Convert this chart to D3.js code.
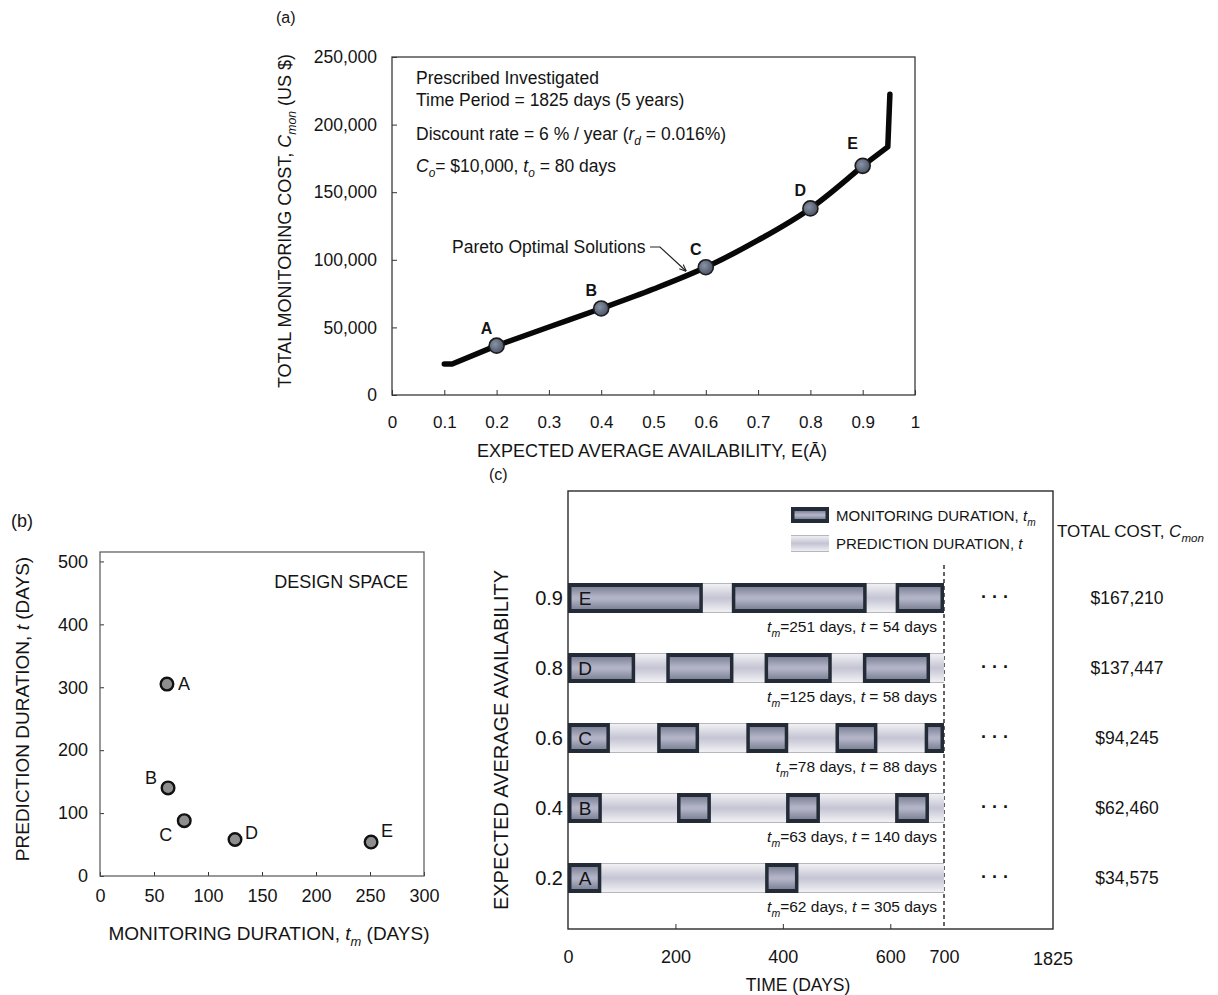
<!DOCTYPE html>
<html><head><meta charset="utf-8">
<script src="https://cdn.jsdelivr.net/npm/d3@7"></script>
<style>body{margin:0;background:#fff;} svg text{fill:#141414;}</style>
</head><body>
<svg id="chart" width="1218" height="995"></svg>
<script>
// ---------- Panel (a) data ----------
const curveAvail = [0.10, 0.115, 0.2, 0.3, 0.4, 0.5, 0.6, 0.7, 0.8, 0.9, 0.948, 0.952];
const curveCost  = [22900, 22900, 36500, 50300, 64000, 78400, 94500, 114500, 138000, 169500, 183500, 222500];
const paretoLabels = ["A", "B", "C", "D", "E"];
const paretoAvail  = [0.2, 0.4, 0.6, 0.8, 0.9];
const paretoCost   = [36500, 64000, 94500, 138000, 169500];
const aXTicks = [0, 0.1, 0.2, 0.3, 0.4, 0.5, 0.6, 0.7, 0.8, 0.9, 1];
const aYTicks = [0, 50000, 100000, 150000, 200000, 250000];

// ---------- Panel (b) data ----------
const designLabels = ["A", "B", "C", "D", "E"];
const designTm = [62, 63, 78, 125, 251];
const designT  = [305, 140, 88, 58, 54];
const bXTicks = [0, 50, 100, 150, 200, 250, 300];
const bYTicks = [0, 100, 200, 300, 400, 500];

// ---------- Panel (c) data ----------
const rowLetters = ["E", "D", "C", "B", "A"];
const rowAvail   = ["0.9", "0.8", "0.6", "0.4", "0.2"];
const rowTm      = [251, 125, 78, 63, 62];
const rowT       = [54, 58, 88, 140, 305];
const rowCost    = ["$167,210", "$137,447", "$94,245", "$62,460", "$34,575"];
const cXTicks    = [0, 200, 400, 600, 700];
const cShownEnd  = 700;
const cPeriodEnd = "1825";

const REG = "'Liberation Sans', Arial, Helvetica, sans-serif";

const svg = d3.select("#chart");
const defs = svg.append("defs");

function vgrad(id, stops) {
  const g = defs.append("linearGradient").attr("id", id).attr("x1", 0).attr("y1", 0).attr("x2", 0).attr("y2", 1);
  stops.forEach(s => g.append("stop").attr("offset", s[0]).attr("stop-color", s[1]));
}
vgrad("monGrad", [[0, "#7f8498"], [0.45, "#b2b3c6"], [0.55, "#b2b3c6"], [1, "#7f8498"]]);
vgrad("preGrad", [[0, "#f4f4f6"], [0.5, "#c4c4d4"], [1, "#f4f4f6"]]);
const rg = defs.append("radialGradient").attr("id", "dotGrad").attr("cx", "40%").attr("cy", "40%").attr("r", "60%");
rg.append("stop").attr("offset", 0).attr("stop-color", "#8893a5");
rg.append("stop").attr("offset", 1).attr("stop-color", "#4c5668");
const mk = defs.append("marker").attr("id", "arrow").attr("viewBox", "0 0 10 10").attr("refX", 9).attr("refY", 5)
  .attr("markerWidth", 6).attr("markerHeight", 6).attr("orient", "auto");
mk.append("path").attr("d", "M0,1 L10,5 L0,9").attr("fill", "none").attr("stroke", "#222").attr("stroke-width", 1.5);

// rich text helper: parts = [text, flags] flags: 1 italic, 2 subscript
function rich(sel, parts, size) {
  let shifted = false;
  parts.forEach(p => {
    const ts = sel.append("tspan").text(p[0]);
    const f = p[1] || 0;
    if (f & 1) ts.attr("font-style", "italic");
    if (f & 2) {
      ts.attr("font-size", size * 0.68);
      if (!shifted) { ts.attr("dy", size * 0.3); shifted = true; }
    } else if (shifted) {
      ts.attr("dy", -size * 0.3); shifted = false;
    }
  });
  return sel;
}

function styleAxis(g, size) {
  g.select(".domain").remove();
  g.selectAll(".tick line").attr("stroke", "#333").attr("stroke-width", 1);
  g.selectAll(".tick text").attr("font-size", size).attr("font-family", REG).attr("fill", "#141414");
}

// ================= Panel (a) =================
const ax = d3.scaleLinear().domain([0, 1]).range([392, 915]);
const ay = d3.scaleLinear().domain([0, 250000]).range([395, 57]);

svg.append("text").attr("x", 276).attr("y", 23).attr("font-size", 16).attr("font-family", REG).text("(a)");

svg.append("g").attr("transform", "translate(0,395)")
  .call(d3.axisBottom(ax).tickValues(aXTicks).tickSizeInner(-5).tickSizeOuter(0).tickPadding(21)
    .tickFormat(d => d === 0 || d === 1 ? d3.format("d")(d) : d3.format(".1f")(d)))
  .call(g => styleAxis(g, 17));
svg.append("g").attr("transform", "translate(392,0)")
  .call(d3.axisLeft(ay).tickValues(aYTicks).tickSizeInner(-5).tickSizeOuter(0).tickPadding(15).tickFormat(d3.format(",")))
  .call(g => styleAxis(g, 17.5));
svg.append("rect").attr("x", 392).attr("y", 57).attr("width", 523).attr("height", 338)
  .attr("fill", "none").attr("stroke", "#3a3a3a").attr("stroke-width", 1.3);

const curvePts = curveAvail.map((a, i) => [a, curveCost[i]]);
const smoothPart = curvePts.filter(d => d[0] >= 0.2 && d[0] <= 0.9);
const headPart = curvePts.filter(d => d[0] <= 0.2);
const tailPart = curvePts.filter(d => d[0] >= 0.9);
const curveStyle = p => p.attr("fill", "none").attr("stroke", "#080808").attr("stroke-width", 5.5)
  .attr("stroke-linecap", "round").attr("stroke-linejoin", "round");
svg.append("path").datum(smoothPart)
  .attr("d", d3.line().x(d => ax(d[0])).y(d => ay(d[1])).curve(d3.curveMonotoneX)).call(curveStyle);
svg.append("path").datum(headPart)
  .attr("d", d3.line().x(d => ax(d[0])).y(d => ay(d[1]))).call(curveStyle);
svg.append("path").datum(tailPart)
  .attr("d", d3.line().x(d => ax(d[0])).y(d => ay(d[1]))).call(curveStyle);

paretoAvail.forEach((a, i) => {
  svg.append("circle").attr("cx", ax(a)).attr("cy", ay(paretoCost[i])).attr("r", 7.5)
    .attr("fill", "url(#dotGrad)").attr("stroke", "#1c1c1c").attr("stroke-width", 1.6);
  svg.append("text").attr("x", ax(a) - 10).attr("y", ay(paretoCost[i]) - (i === 4 ? 17 : 12))
    .attr("text-anchor", "middle").attr("font-size", 16).attr("font-weight", "bold").attr("font-family", REG)
    .text(paretoLabels[i]);
});

const annA = svg.append("g").attr("font-family", REG).attr("font-size", 17.5);
annA.append("text").attr("x", 416).attr("y", 84).text("Prescribed Investigated");
annA.append("text").attr("x", 416).attr("y", 106).text("Time Period = 1825 days (5 years)");
rich(annA.append("text").attr("x", 416).attr("y", 140),
  [["Discount rate = 6 % / year ("], ["r", 1], ["d", 3], [" = 0.016%)"]], 17.5);
rich(annA.append("text").attr("x", 416).attr("y", 172),
  [["C", 1], ["o", 3], ["= $10,000, "], ["t", 1], ["o", 3], [" = 80 days"]], 17.5);

annA.append("text").attr("x", 452).attr("y", 253).text("Pareto Optimal Solutions");
svg.append("path").attr("d", "M650,247 L660,247 L686,271").attr("fill", "none")
  .attr("stroke", "#222").attr("stroke-width", 1.2).attr("marker-end", "url(#arrow)");

svg.append("text").attr("transform", "translate(291,221) rotate(-90)").attr("text-anchor", "middle")
  .attr("font-size", 18).attr("font-family", REG)
  .call(t => rich(t, [["TOTAL MONITORING COST, "], ["C", 1], ["mon", 3], [" (US $)"]], 18));
svg.append("text").attr("x", 652).attr("y", 457).attr("text-anchor", "middle")
  .attr("font-size", 18).attr("font-family", REG)
  .text("EXPECTED AVERAGE AVAILABILITY, E(\u0100)");

// ================= Panel (b) =================
const bx = d3.scaleLinear().domain([0, 300]).range([100, 424]);
const by = d3.scaleLinear().domain([0, 515]).range([876, 552]);

svg.append("text").attr("x", 11).attr("y", 527).attr("font-size", 18).attr("font-family", REG).text("(b)");
svg.append("g").attr("transform", "translate(0,876)")
  .call(d3.axisBottom(bx).tickValues(bXTicks).tickSizeInner(-4).tickSizeOuter(0).tickPadding(13))
  .call(g => styleAxis(g, 18));
svg.append("g").attr("transform", "translate(100,0)")
  .call(d3.axisLeft(by).tickValues(bYTicks).tickSizeInner(-4).tickSizeOuter(0).tickPadding(12))
  .call(g => styleAxis(g, 18));
svg.append("rect").attr("x", 100).attr("y", 552).attr("width", 324).attr("height", 324)
  .attr("fill", "none").attr("stroke", "#555").attr("stroke-width", 1.2);

const bOff = [[11, 0, "start"], [-11, -10, "end"], [-12, 14, "end"], [10, -7, "start"], [10, -11, "start"]];
designTm.forEach((tm, i) => {
  svg.append("circle").attr("cx", bx(tm)).attr("cy", by(designT[i])).attr("r", 6.3)
    .attr("fill", "#8e8e8e").attr("stroke", "#111").attr("stroke-width", 2.4);
  svg.append("text").attr("x", bx(tm) + bOff[i][0]).attr("y", by(designT[i]) + bOff[i][1])
    .attr("dy", "0.35em").attr("text-anchor", bOff[i][2]).attr("font-size", 18).attr("font-family", REG)
    .text(designLabels[i]);
});
svg.append("text").attr("x", 408).attr("y", 588).attr("text-anchor", "end").attr("font-size", 18)
  .attr("font-family", REG).text("DESIGN SPACE");
svg.append("text").attr("transform", "translate(29,709) rotate(-90)").attr("text-anchor", "middle")
  .attr("font-size", 19).attr("font-family", REG)
  .call(t => rich(t, [["PREDICTION DURATION, "], ["t", 1], [" (DAYS)"]], 19));
svg.append("text").attr("x", 269).attr("y", 940).attr("text-anchor", "middle")
  .attr("font-size", 19).attr("font-family", REG)
  .call(t => rich(t, [["MONITORING DURATION, "], ["t", 1], ["m", 3], [" (DAYS)"]], 19));

// ================= Panel (c) =================
const cx = d3.scaleLinear().domain([0, 700]).range([568, 944]);
const cy = d3.scalePoint().domain(rowLetters).range([598, 878]);
const boxR = 1053, boxT = 491, boxB = 929;
const barH = 30;

svg.append("text").attr("x", 489).attr("y", 480).attr("font-size", 16).attr("font-family", REG).text("(c)");
svg.append("g").attr("transform", `translate(0,${boxB})`)
  .call(d3.axisBottom(cx).tickValues(cXTicks).tickSizeInner(-5).tickSizeOuter(0).tickPadding(21))
  .call(g => styleAxis(g, 18))
  .call(g => g.selectAll(".tick line").filter(d => d === 0 || d === 700).remove());
svg.append("text").attr("x", boxR).attr("y", 965).attr("text-anchor", "middle").attr("font-size", 18)
  .attr("font-family", REG).text(cPeriodEnd);
svg.append("rect").attr("x", 568).attr("y", boxT).attr("width", boxR - 568).attr("height", boxB - boxT)
  .attr("fill", "none").attr("stroke", "#2a2a2a").attr("stroke-width", 1.4);

svg.append("line").attr("x1", cx(cShownEnd)).attr("x2", cx(cShownEnd)).attr("y1", 565).attr("y2", boxB)
  .attr("stroke", "#222").attr("stroke-width", 1.4).attr("stroke-dasharray", "4,3");

function monBlock(g, x, y, w, h) {
  g.append("rect").attr("x", x).attr("y", y).attr("width", w).attr("height", h).attr("fill", "#222b36");
  if (w > 7) g.append("rect").attr("x", x + 3.5).attr("y", y + 4).attr("width", w - 7).attr("height", h - 8)
    .attr("fill", "url(#monGrad)");
}
function preBlock(g, x, y, w, h) {
  g.append("rect").attr("x", x).attr("y", y).attr("width", w).attr("height", h).attr("fill", "url(#preGrad)");
  g.append("line").attr("x1", x).attr("x2", x + w).attr("y1", y + 0.5).attr("y2", y + 0.5).attr("stroke", "#b6b6be").attr("stroke-width", 1);
  g.append("line").attr("x1", x).attr("x2", x + w).attr("y1", y + h - 0.5).attr("y2", y + h - 0.5).attr("stroke", "#b6b6be").attr("stroke-width", 1);
}
const leg = svg.append("g");
monBlock(leg, 791, 507, 38, 16);
preBlock(leg, 791, 535, 38, 17);
rich(leg.append("text").attr("x", 836).attr("y", 521).attr("font-size", 15).attr("font-family", REG),
  [["MONITORING DURATION, "], ["t", 1], ["m", 3]], 15);
rich(leg.append("text").attr("x", 836).attr("y", 549).attr("font-size", 15).attr("font-family", REG),
  [["PREDICTION DURATION, "], ["t", 1]], 15);
rich(svg.append("text").attr("x", 1057).attr("y", 537).attr("font-size", 17).attr("font-family", REG),
  [["TOTAL COST, "], ["C", 1], ["mon", 3]], 17);

rowLetters.forEach((L, i) => {
  const yc = cy(L), y0 = yc - barH / 2;
  const g = svg.append("g");
  preBlock(g, cx(0), y0, cx(cShownEnd) - cx(0), barH);
  // monitoring periods alternate with prediction periods: tm, t, tm, t ...
  let s = 0;
  while (s < cShownEnd) {
    const e = Math.min(s + rowTm[i], cShownEnd);
    monBlock(g, cx(s), y0, cx(e) - cx(s), barH);
    s += rowTm[i] + rowT[i];
  }
  g.append("text").attr("x", cx(0) + 17).attr("y", yc).attr("dy", "0.36em").attr("text-anchor", "middle")
    .attr("font-size", 19).attr("font-family", REG).attr("fill", "#0a0a0a").text(L);
  svg.append("text").attr("x", 563).attr("y", yc).attr("dy", "0.36em").attr("text-anchor", "end")
    .attr("font-size", 20).attr("font-family", REG).text(rowAvail[i]);
  rich(svg.append("text").attr("x", 937).attr("y", yc + 34).attr("text-anchor", "end")
      .attr("font-size", 15.5).attr("font-family", REG),
    [["t", 1], ["m", 3], ["=" + rowTm[i] + " days, "], ["t", 1], [" = " + rowT[i] + " days"]], 15.5);
  svg.append("text").attr("x", 995).attr("y", yc).attr("dy", "0.3em").attr("text-anchor", "middle")
    .attr("font-size", 18).attr("font-weight", "bold").attr("font-family", REG).text("\u00b7 \u00b7 \u00b7");
  svg.append("text").attr("x", 1127).attr("y", yc).attr("dy", "0.36em").attr("text-anchor", "middle")
    .attr("font-size", 17.5).attr("font-family", REG).text(rowCost[i]);
});

svg.append("text").attr("transform", "translate(508,740) rotate(-90)").attr("text-anchor", "middle")
  .attr("font-size", 20).attr("font-family", REG).text("EXPECTED AVERAGE AVAILABILITY");
svg.append("text").attr("x", 798).attr("y", 991).attr("text-anchor", "middle")
  .attr("font-size", 17.5).attr("font-family", REG).text("TIME (DAYS)");
</script>
</body></html>
